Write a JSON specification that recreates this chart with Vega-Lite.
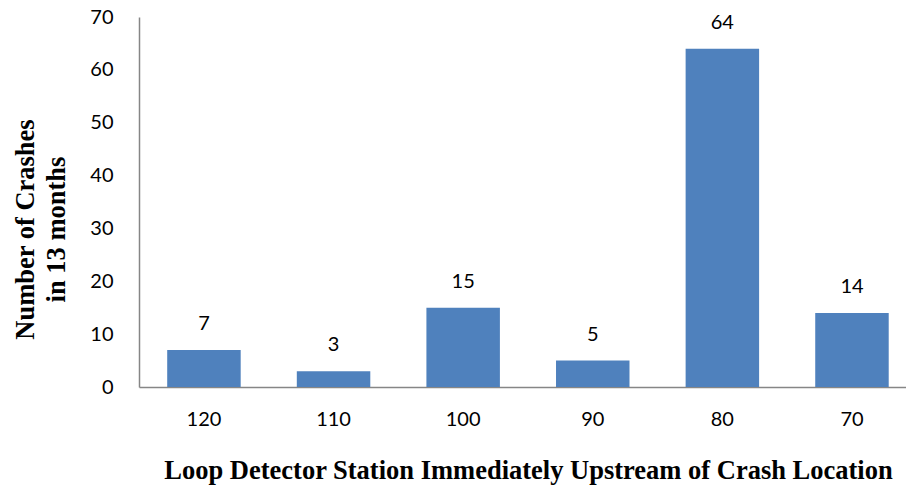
{
  "$schema": "https://vega.github.io/schema/vega-lite/v6.json",
  "autosize": "none",
  "width": 767,
  "height": 370,
  "padding": {"left": 139, "top": 17, "right": 0, "bottom": 99},
  "background": "white",
  "config": {"view": {"stroke": null}},
  "data": {
    "values": [
      {"station": "120", "crashes": 7},
      {"station": "110", "crashes": 3},
      {"station": "100", "crashes": 15},
      {"station": "90", "crashes": 5},
      {"station": "80", "crashes": 64},
      {"station": "70", "crashes": 14}
    ]
  },
  "encoding": {
    "x": {
      "field": "station",
      "type": "nominal",
      "sort": null,
      "scale": {"paddingInner": 0.433, "paddingOuter": 0.1755, "align": 0.62},
      "axis": {
        "title": "Loop Detector Station Immediately Upstream of Crash Location",
        "titleFont": "Liberation Serif",
        "titleFontWeight": "bold",
        "titleFontSize": 26.5,
        "titleColor": "black",
        "titlePadding": 28,
        "titleX": 389,
        "labelAngle": 0,
        "labelFont": "Lato",
        "labelFontSize": 20,
        "labelColor": "black",
        "labelPadding": 22,
        "ticks": false,
        "domainColor": "#868686",
        "domainWidth": 1.5
      }
    },
    "y": {
      "field": "crashes",
      "type": "quantitative",
      "scale": {"domain": [0, 70], "nice": false},
      "axis": {
        "title": ["Number of Crashes", "in 13 months"],
        "titleFont": "Liberation Serif",
        "titleFontWeight": "bold",
        "titleFontSize": 26.5,
        "titleColor": "black",
        "titleLineHeight": 31,
        "titlePadding": 19,
        "titleY": 212,
        "values": [0, 10, 20, 30, 40, 50, 60, 70],
        "labelFont": "Lato",
        "labelFontSize": 20,
        "labelColor": "black",
        "labelPadding": 26,
        "ticks": false,
        "grid": false,
        "domainColor": "#868686",
        "domainWidth": 1.5
      }
    }
  },
  "layer": [
    {"mark": {"type": "bar", "color": "#4F81BD"}},
    {
      "mark": {"type": "text", "baseline": "bottom", "dy": -16, "font": "Lato", "fontSize": 20, "color": "black"},
      "encoding": {"text": {"field": "crashes", "type": "quantitative"}}
    }
  ]
}
